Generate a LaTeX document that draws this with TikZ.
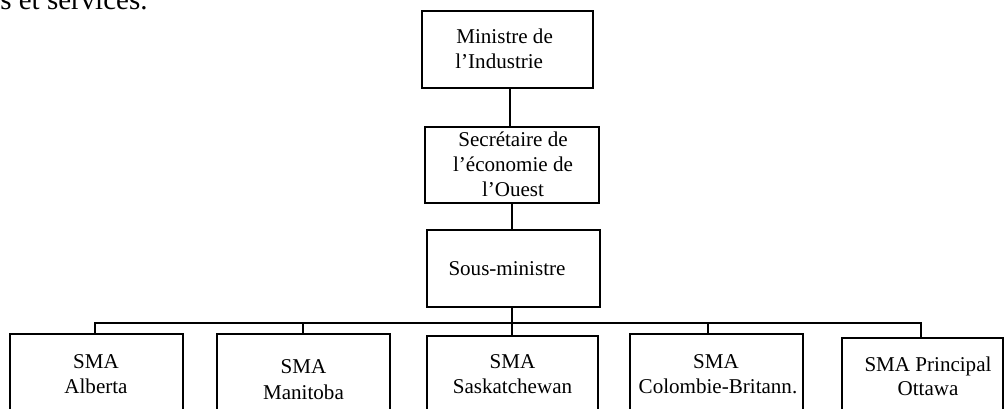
\documentclass[tikz,border=0pt]{standalone}
\usepackage{fontspec}
\setmainfont{Liberation Serif}
\def\u{0.5698pt}
\begin{document}
\begin{tikzpicture}[x=0.5698pt,y=-0.5698pt,
  box/.style={draw, line width=1.7pt, inner sep=0pt},
  conn/.style={line width=1.4pt},
  lbl/.style={anchor=base, inner sep=0pt, font=\fontsize{12}{14}\selectfont}]
\useasboundingbox (0,0) rectangle (1004,408);
\clip (0,0) rectangle (1004,408);
% top clipped text
\node[lbl, anchor=base west, font=\fontsize{16.5}{19}\selectfont] (top) at (0,9) {s et services.};
% boxes
\node[box, minimum width=171*\u, minimum height=77*\u] (b1) at (507.5,49.5) {};
\node[box, minimum width=174*\u, minimum height=76*\u] (b2) at (512,165) {};
\node[box, minimum width=173*\u, minimum height=77*\u] (b3) at (513.5,268.5) {};
\node[box, minimum width=173*\u, minimum height=106*\u] (bA) at (96.5,387) {};
\node[box, minimum width=173*\u, minimum height=106*\u] (bM) at (303.5,387) {};
\node[box, minimum width=171*\u, minimum height=106*\u] (bS) at (512.5,389) {};
\node[box, minimum width=173*\u, minimum height=106*\u] (bC) at (716.5,387) {};
\node[box, minimum width=161*\u, minimum height=106*\u] (bO) at (922.5,391) {};
% texts
\node[lbl, anchor=base west] (t1a) at (456,43) {Ministre de};
\node[lbl, anchor=base west] (t1b) at (455,68) {l’Industrie};
\node[lbl] (t2a) at (513,146) {Secrétaire de};
\node[lbl] (t2b) at (513,171) {l’économie de};
\node[lbl] (t2c) at (513,196) {l’Ouest};
\node[lbl] (t3) at (507,275) {Sous-ministre};
\node[lbl] (tAa) at (96,368) {SMA};
\node[lbl] (tAb) at (96,393) {Alberta};
\node[lbl] (tMa) at (303.5,373) {SMA};
\node[lbl] (tMb) at (303.5,399) {Manitoba};
\node[lbl] (tSa) at (512.5,368) {SMA};
\node[lbl] (tSb) at (512.5,393) {Saskatchewan};
\node[lbl] (tCa) at (716,368) {SMA};
\node[lbl] (tCb) at (718,393) {Colombie-Britann.};
\node[lbl] (tOa) at (928,371) {SMA Principal};
\node[lbl] (tOb) at (928,395) {Ottawa};
% connectors
\coordinate (k1) at (510,88);
\coordinate (k2) at (512,203);
\coordinate (k3) at (512,307);
\coordinate (dA) at (95,323);
\coordinate (dM) at (303,323);
\coordinate (dS) at (512,323);
\coordinate (dC) at (708,323);
\coordinate (dO) at (921,323);
\draw[conn] (k1) -- (k1 |- b2.north);
\draw[conn] (k2) -- (k2 |- b3.north);
\draw[conn] (k3) -- (dS);
\draw[conn] (dA |- bA.north) -- (dA) -- (dO) -- (dO |- bO.north);
\draw[conn] (dM) -- (dM |- bM.north);
\draw[conn] (dS) -- (dS |- bS.north);
\draw[conn] (dC) -- (dC |- bC.north);
\end{tikzpicture}
\end{document}
